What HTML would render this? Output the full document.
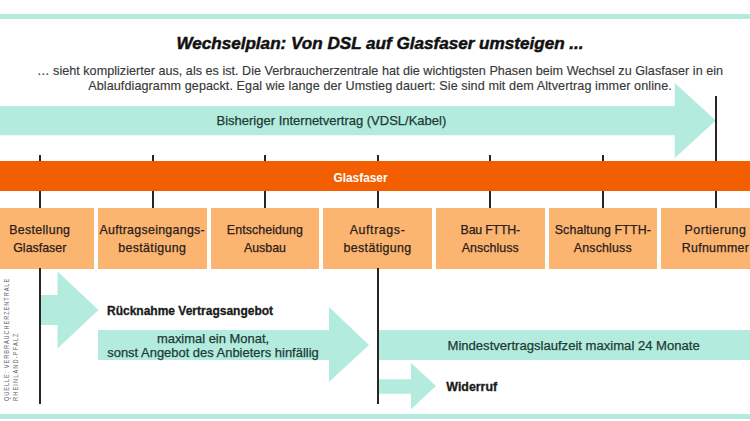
<!DOCTYPE html>
<html><head><meta charset="utf-8">
<style>
html,body{margin:0;padding:0;}
body{width:750px;height:421px;position:relative;overflow:hidden;background:#fff;font-family:"Liberation Sans",sans-serif;color:#333;}
.a{position:absolute;white-space:nowrap;}
.teal{background:#b3ecde;}
.box{position:absolute;top:207.5px;width:108.5px;height:61px;background:#fcb471;}
.bt{position:absolute;left:0;width:108.5px;text-align:center;font-size:12.4px;line-height:17.6px;top:14.7px;color:#2a2019;-webkit-text-stroke:0.25px #2a2019;}
.tick{position:absolute;width:2px;background:#262626;}
</style></head><body>
<!-- top line -->
<div class="a teal" style="left:0;top:14px;width:750px;height:4.5px"></div>
<!-- title -->
<div class="a" style="left:0;top:33.5px;width:760px;text-align:center;font-size:17.1px;font-weight:bold;font-style:italic;color:#111;-webkit-text-stroke:0.5px #111;line-height:20px">Wechselplan: Von DSL auf Glasfaser umsteigen ...</div>
<div class="a" style="left:0;top:63.5px;width:760px;text-align:center;font-size:12.6px;line-height:15.7px;color:#383838;letter-spacing:0.02px;-webkit-text-stroke:0.15px #383838">… sieht komplizierter aus, als es ist. Die Verbraucherzentrale hat die wichtigsten Phasen beim Wechsel zu Glasfaser in ein</div>
<div class="a" style="left:0;top:79.2px;width:760px;text-align:center;font-size:12.6px;line-height:15.7px;color:#383838;letter-spacing:0.09px;-webkit-text-stroke:0.15px #383838">Ablaufdiagramm gepackt. Egal wie lange der Umstieg dauert: Sie sind mit dem Altvertrag immer online.</div>

<!-- big arrow -->
<svg class="a" style="left:0;top:0" width="750" height="421">
  <polygon points="0,106 674.8,106 674.8,83 715.8,120.5 674.8,158 674.8,135.3 0,135.3" fill="#b3ecde"/>
</svg>
<div class="a" style="left:216.5px;top:113.4px;font-size:13px;line-height:16px;color:#203a34;-webkit-text-stroke:0.25px #203a34">Bisheriger Internetvertrag (VDSL/Kabel)</div>


<!-- ticks above bar -->
<div class="tick" style="left:39px;top:155px;height:8px"></div>
<div class="tick" style="left:152px;top:155px;height:8px"></div>
<div class="tick" style="left:264px;top:155px;height:8px"></div>
<div class="tick" style="left:377px;top:155px;height:8px"></div>
<div class="tick" style="left:489px;top:155px;height:8px"></div>
<div class="tick" style="left:602px;top:155px;height:8px"></div>
<div class="tick" style="left:715px;top:96px;height:67px"></div>
<!-- orange bar -->
<div class="a" style="left:0;top:161.3px;width:750px;height:30px;background:#f25e00"></div>
<div class="a" style="left:310px;top:169.7px;width:101px;text-align:center;font-size:11.9px;font-weight:bold;color:#fff;line-height:16px">Glasfaser</div>
<!-- ticks below bar -->
<div class="tick" style="left:39px;top:191px;height:17px"></div>
<div class="tick" style="left:152px;top:191px;height:17px"></div>
<div class="tick" style="left:264px;top:191px;height:17px"></div>
<div class="tick" style="left:377px;top:191px;height:17px"></div>
<div class="tick" style="left:489px;top:191px;height:17px"></div>
<div class="tick" style="left:602px;top:191px;height:17px"></div>
<div class="tick" style="left:715px;top:191px;height:17px"></div>
<!-- boxes -->
<div class="box" style="left:-14.5px"><div class="bt"><span style="letter-spacing:0.33px">Bestellung</span><br><span style="letter-spacing:0.0px">Glasfaser</span></div></div>
<div class="box" style="left:98px"><div class="bt"><span style="letter-spacing:0.29px">Auftragseingangs-</span><br><span style="letter-spacing:0.35px">bestätigung</span></div></div>
<div class="box" style="left:210.7px"><div class="bt"><span style="letter-spacing:0.09px">Entscheidung</span><br><span style="letter-spacing:0.0px">Ausbau</span></div></div>
<div class="box" style="left:323.3px"><div class="bt"><span style="letter-spacing:0.6px">Auftrags-</span><br><span style="letter-spacing:0.35px">bestätigung</span></div></div>
<div class="box" style="left:436px"><div class="bt"><span style="letter-spacing:-0.22px">Bau FTTH-</span><br><span style="letter-spacing:0.05px">Anschluss</span></div></div>
<div class="box" style="left:548.6px"><div class="bt"><span style="letter-spacing:0.13px">Schaltung FTTH-</span><br><span style="letter-spacing:0.17px">Anschluss</span></div></div>
<div class="box" style="left:661.2px"><div class="bt"><span style="letter-spacing:0.45px">Portierung</span><br><span style="letter-spacing:0.3px">Rufnummer</span></div></div>

<!-- vertical lines lower -->
<div class="tick" style="left:39px;top:268px;height:135.5px"></div>
<div class="tick" style="left:376.8px;top:268px;height:135.5px"></div>

<!-- lower arrows -->
<svg class="a" style="left:0;top:0" width="750" height="421">
  <polygon points="41,295 57.5,295 57.5,271.5 98.5,310 57.5,348.5 57.5,325 41,325" fill="#b3ecde"/>
  <polygon points="98,330 329,330 329,307 369,345 329,382 329,360 98,360" fill="#b3ecde"/>
  <rect x="379" y="330" width="371" height="30" fill="#b3ecde"/>
  <polygon points="379,379.3 411,379.3 411,363 436,386 411,409.3 411,393.8 379,393.8" fill="#b3ecde"/>
</svg>
<div class="a" style="left:107px;top:302.6px;font-size:12px;font-weight:bold;line-height:16px;color:#1a1a1a;-webkit-text-stroke:0.3px #1a1a1a">Rücknahme Vertragsangebot</div>
<div class="a" style="left:63px;top:332px;width:300px;text-align:center;font-size:12.95px;line-height:13.7px;color:#203a34;-webkit-text-stroke:0.25px #203a34">maximal ein Monat,<br>sonst Angebot des Anbieters hinfällig</div>
<div class="a" style="left:447.5px;top:338.2px;font-size:13.08px;line-height:16px;color:#203a34;-webkit-text-stroke:0.25px #203a34">Mindestvertragslaufzeit maximal 24 Monate</div>
<div class="a" style="left:446.3px;top:379.1px;font-size:12.4px;font-weight:bold;line-height:16px;color:#1a1a1a;-webkit-text-stroke:0.3px #1a1a1a">Widerruf</div>

<!-- source -->
<div class="a" style="left:1.6px;top:400.5px;transform-origin:0 0;transform:rotate(-90deg) scaleX(0.8);font-size:7px;line-height:9px;letter-spacing:1.19px;color:#666">QUELLE: VERBRAUCHERZENTRALE</div>
<div class="a" style="left:10.8px;top:400.5px;transform-origin:0 0;transform:rotate(-90deg) scaleX(0.8);font-size:7px;line-height:9px;letter-spacing:1.44px;color:#666">RHEINLAND-PFALZ</div>

<!-- bottom line -->
<div class="a teal" style="left:0;top:414px;width:750px;height:4.5px"></div>
</body></html>
